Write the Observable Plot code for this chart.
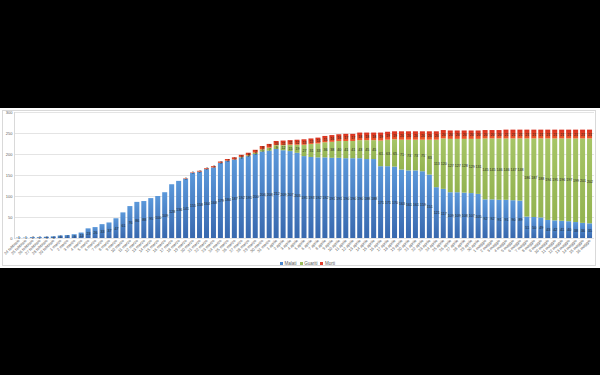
<!DOCTYPE html>
<html>
<head>
<meta charset="utf-8">
<script src="https://cdn.jsdelivr.net/npm/d3@7"></script>
<script src="https://cdn.jsdelivr.net/npm/@observablehq/plot@0.6"></script>
<style>
  html, body { margin: 0; padding: 0; background: #000; }
  #wrap { position: relative; margin-top: 108px; width: 600px; height: 160px; background: #fff; overflow: hidden; }
  #border { position: absolute; left: 2px; top: 2px; width: 594px; height: 156px; border: 1px solid #d9d9d9; box-sizing: border-box; pointer-events: none; }
  #chart svg { display: block; }
  #legend { position: absolute; left: 0; top: 152px; width: 600px; height: 8px; text-align: center;
    font: 4.5px "Liberation Sans", Arial, sans-serif; color: #595959; line-height: 8px; padding-left: 12px; box-sizing: border-box; }
  #legend span.sw { display: inline-block; width: 3px; height: 3px; margin: 0 1.5px 0 3px; vertical-align: middle; }
</style>
</head>
<body>
<div id="wrap">
  <div id="chart"></div>
  <div id="legend"></div>
  <div id="border"></div>
</div>
<script>
// ---- data ----
const seriesNames = ["Malati", "Guariti", "Morti"];
const seriesColors = ["#4A86CC", "#9BBB59", "#E03B2A"];
const startDate = [2020, 1, 24]; // 24 febbraio 2020
const monthNames = ["gennaio","febbraio","marzo","aprile","maggio","giugno","luglio","agosto","settembre","ottobre","novembre","dicembre"];

const active = [1,1,2,2,3,4,6,7,9,13,23,26,33,37,47,61,76,86,88,95,100,109,128,136,
  141,155,158,164,168,179,184,187,192,195,200,206,208,212,209,207,203,195,193,192,192,191,191,190,190,190,188,188,
  171,171,170,163,161,161,159,151,121,117,109,109,108,107,105,92,92,91,91,90,89,51,50,49,43,42,41,40,38,36,35];
const recovered = [0,0,0,0,0,0,0,0,0,0,0,0,0,0,0,0,0,0,0,0,0,0,0,0,0,0,0,0,0,0,0,0,
  1,2,3,5,7,9,12,15,19,27,31,33,36,38,40,41,41,43,45,45,61,63,65,71,73,73,75,83,113,120,
  127,127,128,129,131,145,145,146,146,147,148,186,187,188,194,195,196,197,199,201,202];
const deaths = [0,0,0,0,0,0,0,0,0,0,0,0,0,0,0,0,0,0,0,0,0,0,0,0,
  1,1,2,2,3,3,4,5,5,6,7,8,9,10,11,11,12,13,13,14,15,16,16,17,17,18,18,18,19,19,19,
  20,20,20,20,20,20,20,20,20,20,20,20,20,20,20,
  21,21,21,21,21,21,21,21,21,21,21,21,21];
const yTicks = [0, 50, 100, 150, 200, 250, 300];

const dates = active.map((_, i) => {
  const d = new Date(startDate[0], startDate[1], startDate[2] + i);
  return `${d.getDate()} ${monthNames[d.getMonth()]}`;
});

const data = [];
dates.forEach((d, i) => {
  data.push({date: d, series: seriesNames[0], value: active[i]});
  data.push({date: d, series: seriesNames[1], value: recovered[i]});
  data.push({date: d, series: seriesNames[2], value: deaths[i]});
});

const chart = Plot.plot({
  width: 600,
  height: 152,
  marginTop: 4,
  marginBottom: 22,
  marginLeft: 14,
  marginRight: 6,
  style: {background: "transparent", color: "#595959", fontFamily: "'Liberation Sans', Arial, sans-serif", fontSize: "4px"},
  x: {domain: dates, padding: 0.28, label: null, tickSize: 0, tickPadding: 1.5, tickRotate: -45},
  y: {domain: [0, 300], ticks: yTicks, label: null, tickSize: 0, tickPadding: 2, line: true},
  color: {domain: seriesNames, range: ["url(#gB)", "url(#gG)", "url(#gR)"]},
  marks: [
    Plot.ruleY(yTicks, {stroke: "#d9d9d9", strokeWidth: 0.7}),
    Plot.barY(data, {x: "date", y: "value", fill: "series"}),
    Plot.text(data, Plot.stackY({x: "date", y: "value", z: "series", text: d => d.value,
      filter: d => d.value > 0, fontSize: 3.6, fill: "#1e1e1e"}))
  ]
});

const svg = d3.select(chart);
const defs = svg.insert("defs", ":first-child");
function grad(id, top, bottom) {
  const g = defs.append("linearGradient").attr("id", id).attr("x1", 0).attr("y1", 0).attr("x2", 0).attr("y2", 1);
  g.append("stop").attr("offset", "0%").attr("stop-color", top);
  g.append("stop").attr("offset", "100%").attr("stop-color", bottom);
}
grad("gB", "#5B98DA", "#3868AE");
grad("gG", "#A6C566", "#93B350");
grad("gR", "#D8301F", "#EC5A2C");
svg.selectAll('[aria-label^="y-axis"] path, [aria-label^="y-axis"] line, [aria-label="frame"], [aria-label="frame"] line, [aria-label="frame"] path, [aria-label="rule"][aria-label]')
  .filter(function() { return this.tagName !== "g" || this.getAttribute("aria-label") !== "rule"; })
  .attr("stroke", "#d9d9d9");
svg.selectAll('[aria-label^="y-axis"]').each(function() {
  if (this.tagName === "g" && /line/.test(this.getAttribute("aria-label"))) d3.select(this).attr("stroke", "#d9d9d9").selectAll("*").attr("stroke", "#d9d9d9");
});
svg.selectAll('[aria-label^="x-axis"] text, [aria-label^="y-axis"] text').attr("fill", "#595959");

document.getElementById("chart").appendChild(chart);

const legend = document.getElementById("legend");
seriesNames.forEach((s, i) => {
  const sw = document.createElement("span");
  sw.className = "sw";
  sw.style.background = seriesColors[i];
  legend.appendChild(sw);
  legend.appendChild(document.createTextNode(s));
});
</script>
</body>
</html>
